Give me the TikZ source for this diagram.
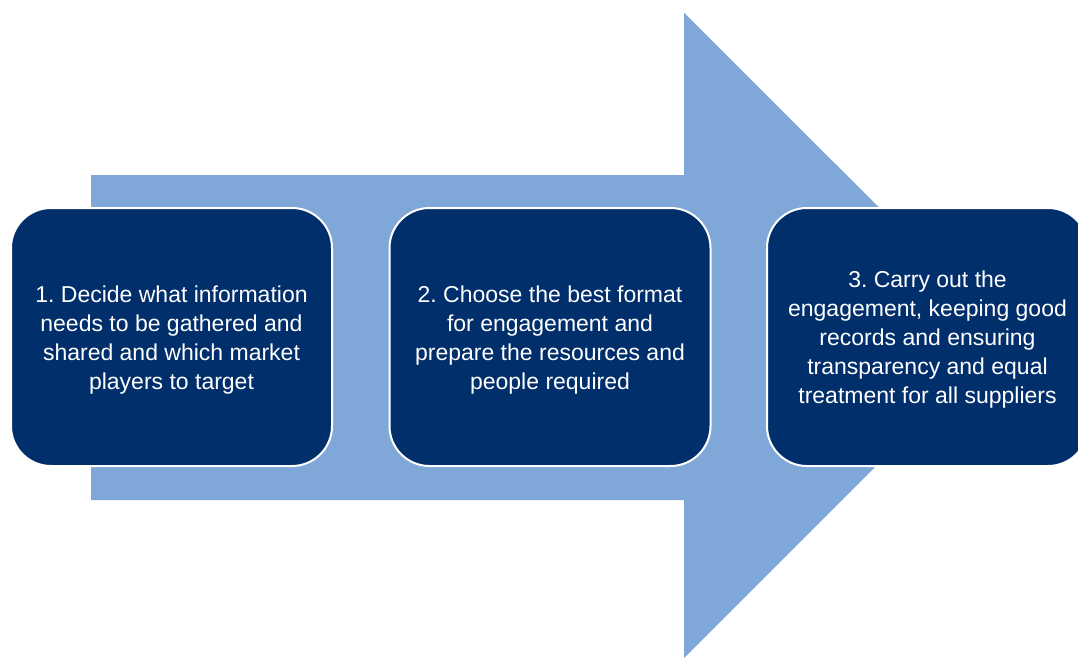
\documentclass[tikz,border=0pt]{standalone}
\usepackage{fontspec}
\setmainfont{Liberation Sans}
\frenchspacing
\definecolor{navy}{RGB}{0,47,108}
\definecolor{lightblue}{RGB}{127,167,216}
\begin{document}
\begin{tikzpicture}[x=1pt,y=-1pt,
  stepbox/.style={draw=white, line width=2pt, fill=navy, rounded corners=40pt,
    minimum width=321pt, minimum height=258pt, inner sep=0pt},
  steptext/.style={text=white, align=center,
    font=\fontsize{23}{29}\selectfont\frenchspacing, inner sep=0pt}]
\useasboundingbox (0,0) rectangle (1078,658);
\clip (0,0) rectangle (1078,658);
\fill[lightblue] (91,175) -- (684,175) -- (684,12.7) -- (1007,335.3) -- (684,658) -- (684,500) -- (91,500) -- cycle;
\node[stepbox] (s1) at (171.5,337) {};
\node[stepbox] (s2) at (550,337) {};
\node[stepbox] (s3) at (927.5,337) {};
\node[steptext] (t1) at ([yshift=-3pt]s1.center) {1. Decide what information\\needs to be gathered and\\shared and which market\\players to target};
\node[steptext] (t2) at ([yshift=-3pt]s2.center) {2. Choose the best format\\for engagement and\\prepare the resources and\\people required};
\node[steptext] (t3) at ([yshift=-3pt]s3.center) {3. Carry out the\\engagement, keeping good\\records and ensuring\\transparency and equal\\treatment for all suppliers};
\end{tikzpicture}
\end{document}
